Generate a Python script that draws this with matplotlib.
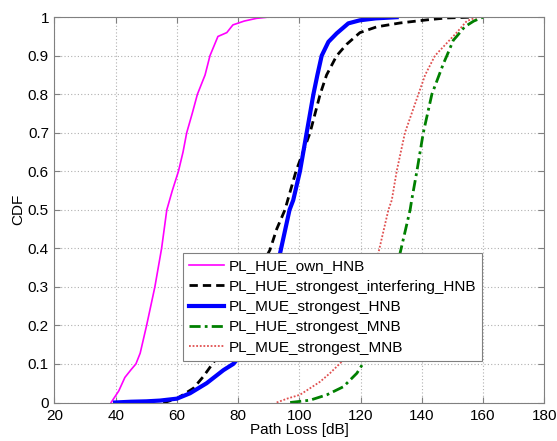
import numpy as np
import matplotlib.pyplot as plt

plt.rcParams['font.family'] = ['Liberation Sans', 'DejaVu Sans']

# CDF curves: (path loss [dB], cdf)
own_hnb_x = [38.5, 41, 43, 45, 46.6, 48, 50.1, 52.8, 55, 56.7, 58.5, 60.5, 62, 63.2, 65, 66.7,
             69.2, 70.8, 73.4, 76.3, 78.3, 82, 86, 89.5]
own_hnb_y = [0, 0.03, 0.065, 0.085, 0.1, 0.128, 0.2, 0.3, 0.4, 0.5, 0.55, 0.6, 0.65, 0.7, 0.75, 0.8,
             0.85, 0.9, 0.95, 0.96, 0.98, 0.99, 0.997, 1.0]

intf_hnb_x = [55.5, 56.7, 60, 65.4, 68.6, 72.5, 78, 84, 90.4, 92.6, 95.3, 98.9, 103.5, 106.8,
              108.9, 112.2, 115.5, 119.8, 125.3, 132.9, 141.6, 148, 156]
intf_hnb_y = [0, 0.002, 0.01, 0.037, 0.067, 0.11, 0.2, 0.3, 0.396, 0.45, 0.5, 0.6, 0.7, 0.8,
              0.85, 0.9, 0.93, 0.96, 0.975, 0.985, 0.993, 0.998, 1.0]

mue_hnb_x = [39.8, 45, 50, 54.5, 60, 64.3, 69.7, 75.2, 78.4, 79.5, 83, 87, 90.5, 93.7, 96.8, 98,
             100.2, 102.4, 104.6, 105.9, 107.3, 109.5, 112.2, 116, 119.8, 125, 131.8]
mue_hnb_y = [0, 0.002, 0.003, 0.005, 0.01, 0.024, 0.05, 0.084, 0.1, 0.11, 0.18, 0.26, 0.33, 0.387,
             0.5, 0.525, 0.6, 0.7, 0.8, 0.85, 0.9, 0.936, 0.958, 0.984, 0.992, 0.997, 1.0]

hue_mnb_x = [97, 103.5, 109, 114.4, 118.8, 121.5, 125, 129, 132.9, 136.2, 136.7, 138.4, 140.5,
             143.3, 147.1, 148.2, 150.3, 151.4, 154, 157, 160]
hue_mnb_y = [0, 0.006, 0.02, 0.041, 0.076, 0.11, 0.19, 0.29, 0.387, 0.5, 0.525, 0.6, 0.7,
             0.8, 0.88, 0.9, 0.94, 0.95, 0.975, 0.99, 1.0]

mue_mnb_x = [92.6, 96, 100.2, 106.8, 110, 114.4, 118, 122, 125.8, 129.1, 130.2, 131.8, 134.5,
             138.9, 141.1, 144.3, 151.4, 154.7, 158]
mue_mnb_y = [0, 0.01, 0.02, 0.054, 0.076, 0.11, 0.19, 0.29, 0.387, 0.5, 0.525, 0.6, 0.7,
             0.8, 0.85, 0.9, 0.96, 0.99, 1.0]

fig = plt.figure(figsize=(5.57, 4.41), dpi=100)
ax = fig.add_axes([0.0978, 0.0873, 0.8792, 0.8737])

ax.plot(own_hnb_x, own_hnb_y, color='#ff00ff', lw=1.2, label='PL_HUE_own_HNB')
ax.plot(intf_hnb_x, intf_hnb_y, color='black', lw=2, ls=(0, (3, 1.8)),
        label='PL_HUE_strongest_interfering_HNB')
ax.plot(mue_hnb_x, mue_hnb_y, color='#0000ff', lw=3, label='PL_MUE_strongest_HNB')
ax.plot(hue_mnb_x, hue_mnb_y, color='#008000', lw=2, ls=(0, (4, 1.5, 1, 1.5)),
        label='PL_HUE_strongest_MNB')
ax.plot(mue_mnb_x, mue_mnb_y, color='#e05050', lw=1.3, ls=(0, (1, 1)),
        label='PL_MUE_strongest_MNB')

ax.set_xlim(20, 180)
ax.set_ylim(0, 1)
ax.set_xticks(np.arange(20, 181, 20))
ax.set_yticks(np.arange(0, 1.01, 0.1))
ax.set_yticklabels(['0', '0.1', '0.2', '0.3', '0.4', '0.5', '0.6', '0.7', '0.8', '0.9', '1'])
ax.grid(True, ls=(0, (1, 2)), color='#b0b0b0', lw=0.8)
ax.tick_params(direction='in', top=True, right=True, labelsize=11, length=4,
               color='#808080')
ax.tick_params(axis='x', pad=5)
ax.tick_params(axis='y', pad=4)
for s in ax.spines.values():
    s.set_color('#808080')

ax.set_xlabel('Path Loss [dB]', fontsize=11, labelpad=0)
ax.set_ylabel('CDF', fontsize=11, labelpad=2)

leg = ax.legend(loc='upper left', bbox_to_anchor=(0.2625, 0.388), borderaxespad=0,
                fontsize=11, fancybox=False, framealpha=1, edgecolor='#808080',
                handlelength=2.3, handletextpad=0.3, labelspacing=0.42, borderpad=0.4)
leg.get_frame().set_linewidth(0.8)

fig.savefig('out.png', dpi=100)
